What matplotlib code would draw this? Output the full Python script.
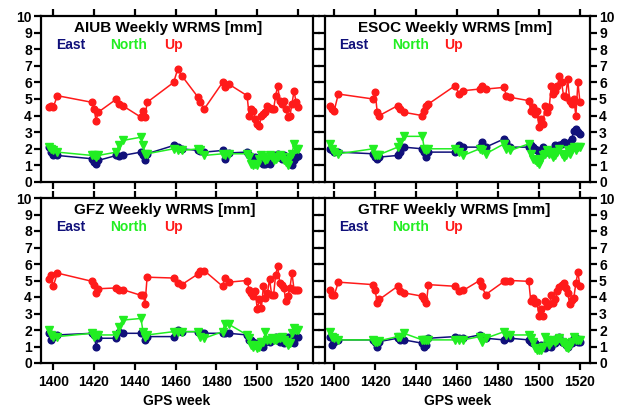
import numpy as np
import matplotlib
matplotlib.use("Agg")
import matplotlib.pyplot as plt

plt.rcParams['font.family'] = ['Liberation Sans', 'DejaVu Sans']
plt.rcParams['font.weight'] = 'bold'

weeks = [1398, 1399, 1400, 1402,
         1419, 1420, 1421, 1422,
         1431, 1432, 1434,
         1443, 1444, 1445, 1446,
         1459, 1461, 1463,
         1471, 1472, 1474,
         1483, 1484, 1486] + list(range(1495, 1521))

# AIUB
aiub_up = [4.5, 4.6, 4.5, 5.2, 4.8, 4.4, 3.7, 4.2, 5.0, 4.7, 4.6, 3.9, 4.3, 3.9, 4.8,
           6.0, 6.8, 6.4, 5.1, 4.8, 4.4, 6.0, 5.7, 5.9,
           5.2, 4.0, 4.4, 4.3, 3.8, 3.5, 3.4, 4.0, 4.1, 4.2, 4.6, 4.45, 4.4, 4.4, 5.2, 5.8,
           4.9, 4.7, 4.9, 4.4, 3.9, 4.0, 4.7, 5.5, 4.8, 4.5]
aiub_east = [2.1, 1.8, 1.6, 1.6, 1.4, 1.2, 1.1, 1.3, 1.6, 1.55, 1.6, 1.8, 1.6, 1.3, 1.7,
             2.2, 2.1, 2.0, 1.9, 1.85, 1.8, 1.9, 1.4, 1.75,
             1.8, 1.6, 1.5, 1.4, 1.5, 1.2, 1.3, 1.4, 1.1, 1.1, 1.2, 1.1, 1.4, 1.5, 1.6, 1.7,
             1.5, 1.4, 1.6, 1.4, 1.3, 1.2, 1.0, 1.3, 1.5, 1.55]
aiub_north = [2.1, 2.0, 1.95, 1.8, 1.6, 1.65, 1.5, 1.6, 1.8, 2.2, 2.5, 2.7, 2.2, 1.7, 1.7,
              2.0, 1.9, 1.9, 2.0, 1.9, 1.6, 1.7, 1.65, 1.7,
              1.7, 1.5, 1.1, 1.0, 1.1, 1.0, 1.4, 1.6, 1.5, 1.3, 1.4, 1.6, 1.5, 1.3, 1.4, 1.5,
              1.6, 1.5, 1.3, 1.2, 1.0, 1.5, 1.7, 2.3, 2.0, 2.0]

# ESOC
esoc_up = [4.6, 4.4, 4.3, 5.3, 5.0, 5.4, 4.2, 4.0, 4.6, 4.4, 4.2, 4.0, 4.3, 4.6, 4.7,
           5.8, 5.3, 5.5, 5.6, 5.8, 5.6, 5.7, 5.2, 5.1,
           4.9, 4.3, 4.5, 4.1, 4.3, 3.3, 3.8, 3.5, 4.6, 4.2, 4.5, 5.8, 5.3, 5.5, 5.8, 6.4,
           6.0, 5.2, 5.1, 6.2, 4.9, 4.7, 5.0, 4.0, 6.0, 4.8]
esoc_east = [2.0, 1.9, 1.8, 1.8, 1.7, 1.5, 1.4, 1.5, 1.6, 1.8, 2.1, 2.0, 1.8, 1.5, 1.8,
             1.8, 2.2, 2.1, 2.1, 2.4, 2.1, 2.6, 2.4, 2.1,
             2.1, 2.2, 2.1, 2.0, 1.9, 1.8, 1.9, 2.1, 2.0, 1.8, 1.8, 1.9, 2.0, 2.2, 2.1, 2.2,
             2.3, 2.4, 2.3, 2.2, 2.4, 2.6, 3.1, 3.2, 3.0, 2.9]
esoc_north = [2.3, 2.0, 1.8, 1.7, 2.0, 1.6, 1.6, 1.65, 2.1, 2.4, 2.75, 2.75, 2.0, 1.9, 2.0,
              2.0, 1.8, 1.6, 2.0, 1.9, 1.7, 2.3, 2.0, 1.9,
              2.3, 1.7, 1.4, 1.3, 1.2, 1.1, 1.4, 1.6, 1.7, 1.9, 1.7, 1.8, 1.5, 1.6, 1.8, 2.0,
              1.7, 1.5, 1.6, 1.9, 1.7, 2.0, 2.1, 1.9, 2.1, 2.1]

# GFZ
gfz_up = [5.1, 5.35, 4.65, 5.45, 4.95, 4.75, 4.25, 4.5, 4.55, 4.4, 4.45, 4.1, 4.15, 3.6, 5.2,
          5.15, 4.85, 4.75, 5.4, 5.55, 5.6, 4.65, 5.15, 4.9,
          5.0, 4.45, 4.25, 4.05, 4.35, 3.25, 3.85, 3.35, 4.65, 3.95, 4.25, 5.1, 4.15, 4.15, 5.35, 5.85,
          4.85, 4.75, 4.55, 3.75, 4.05, 4.55, 5.45, 4.45, 4.4, 4.4]
gfz_east = [1.8, 1.4, 1.6, 1.7, 1.8, 1.7, 1.0, 1.5, 1.5, 1.9, 1.8, 1.8, 1.8, 1.4, 1.6,
            1.6, 2.0, 1.9, 1.9, 1.9, 1.8, 1.8, 1.8, 1.8,
            1.7, 1.4, 1.4, 1.3, 1.1, 1.2, 1.1, 1.3, 1.0, 1.3, 1.4, 1.3, 1.4, 1.5, 1.6, 1.4,
            1.3, 1.5, 1.2, 1.4, 1.6, 1.5, 1.3, 1.2, 1.6, 1.6]
gfz_north = [2.0, 1.7, 1.6, 1.6, 1.8, 1.6, 1.7, 1.7, 1.7, 2.2, 2.6, 2.7, 1.9, 1.6, 1.7,
             1.9, 1.9, 1.9, 1.9, 1.6, 1.5, 1.9, 2.35, 2.35,
             1.7, 1.5, 1.1, 1.0, 1.1, 0.9, 1.0, 1.3, 1.3, 1.9, 1.4, 1.4, 1.5, 1.4, 1.4, 1.5,
             1.5, 1.6, 1.4, 1.3, 1.1, 1.2, 1.8, 2.1, 2.0, 2.0]

# GTRF
gtrf_up = [4.4, 4.15, 4.1, 4.9, 4.75, 4.4, 3.65, 3.85, 4.65, 4.35, 4.25, 4.05, 3.9, 3.65, 4.75,
           4.65, 4.35, 4.4, 5.0, 4.65, 4.15, 4.95, 5.0, 5.0,
           4.95, 3.75, 3.95, 3.65, 3.7, 2.85, 3.25, 2.85, 3.75, 3.45, 3.55, 4.15, 3.65, 3.85, 4.35, 4.6,
           4.75, 4.85, 4.55, 4.25, 3.6, 3.8, 3.95, 4.85, 5.5, 4.65]
gtrf_east = [1.6, 1.1, 1.3, 1.4, 1.4, 1.3, 1.0, 1.3, 1.5, 1.4, 1.4, 1.2, 1.0, 1.1, 1.5,
             1.6, 1.5, 1.5, 1.7, 1.6, 1.5, 1.4, 1.5, 1.5,
             1.4, 1.3, 1.2, 1.2, 1.0, 0.9, 1.1, 1.0, 0.9, 1.2, 1.1, 1.0, 1.3, 1.2, 1.5, 1.6,
             1.3, 1.2, 1.1, 1.0, 1.3, 1.2, 1.5, 1.5, 1.3, 1.3]
gtrf_north = [1.9, 1.6, 1.5, 1.4, 1.4, 1.3, 1.3, 1.35, 1.6, 1.6, 1.8, 1.4, 1.4, 1.4, 1.4,
              1.4, 1.4, 1.4, 1.6, 1.3, 1.5, 1.9, 1.7, 1.7,
              1.7, 1.5, 1.3, 0.9, 0.8, 0.8, 0.8, 1.0, 1.6, 1.4, 1.1, 1.3, 1.4, 1.3, 1.4, 1.5,
              1.3, 1.2, 1.0, 0.9, 1.1, 1.3, 1.6, 1.4, 1.4, 1.4]

names = ["AIUB", "ESOC", "GFZ", "GTRF"]
series = [(aiub_east, aiub_north, aiub_up),
          (esoc_east, esoc_north, esoc_up),
          (gfz_east, gfz_north, gfz_up),
          (gtrf_east, gtrf_north, gtrf_up)]

c_east = '#10107a'
c_north = '#22ee22'
c_up = '#ff1a1a'

W, H = 628, 409
fig = plt.figure(figsize=(W / 100, H / 100), dpi=100)

boxes = [(41, 313, 16, 182), (325, 590, 16, 182),
         (41, 313, 198, 363), (325, 590, 198, 363)]
xlims = [(1394, 1527.3), (1395.5, 1524.9), (1394, 1527.3), (1395.5, 1524.9)]

for i, (name, (e, n, u)) in enumerate(zip(names, series)):
    l, r, t, b = boxes[i]
    ax = fig.add_axes([l / W, 1 - b / H, (r - l) / W, (b - t) / H])
    ax.plot(weeks, u, '-o', color=c_up, lw=1.1, ms=4.8, mec=c_up)
    ax.plot(weeks, e, '-o', color=c_east, lw=1.1, ms=4.8, mec=c_east)
    ax.plot(weeks, n, '-v', color=c_north, lw=1.1, ms=5.8, mec=c_north)
    ax.set_xlim(*xlims[i])
    ax.set_ylim(0, 10)
    ax.set_xticks(np.arange(1400, 1521, 20))
    ax.set_yticks(np.arange(0, 11, 1))
    for s in ax.spines.values():
        s.set_linewidth(1.6)
    ax.tick_params(direction='out', length=5, width=1.6, labelsize=10,
                   top=True, right=True, bottom=True, left=True)
    ax.tick_params(axis='y', pad=1.5)
    ax.tick_params(axis='x', pad=4)
    if i < 2:
        ax.tick_params(labelbottom=False)
    else:
        ax.set_xlabel("GPS week", fontsize=10, fontweight='bold', labelpad=3)
    if i % 2 == 1:
        ax.tick_params(labelleft=False, labelright=True)
    ax.text(0.123, 0.928, name + " Weekly WRMS [mm]", transform=ax.transAxes,
            fontsize=11, fontweight='bold', va='center', ha='left')
    ax.text(0.055, 0.825, "East", color=c_east, transform=ax.transAxes,
            fontsize=10, fontweight='bold', va='center', ha='left')
    ax.text(0.253, 0.825, "North", color=c_north, transform=ax.transAxes,
            fontsize=10, fontweight='bold', va='center', ha='left')
    ax.text(0.451, 0.825, "Up", color=c_up, transform=ax.transAxes,
            fontsize=10, fontweight='bold', va='center', ha='left')

fig.savefig("out.png", dpi=100)
